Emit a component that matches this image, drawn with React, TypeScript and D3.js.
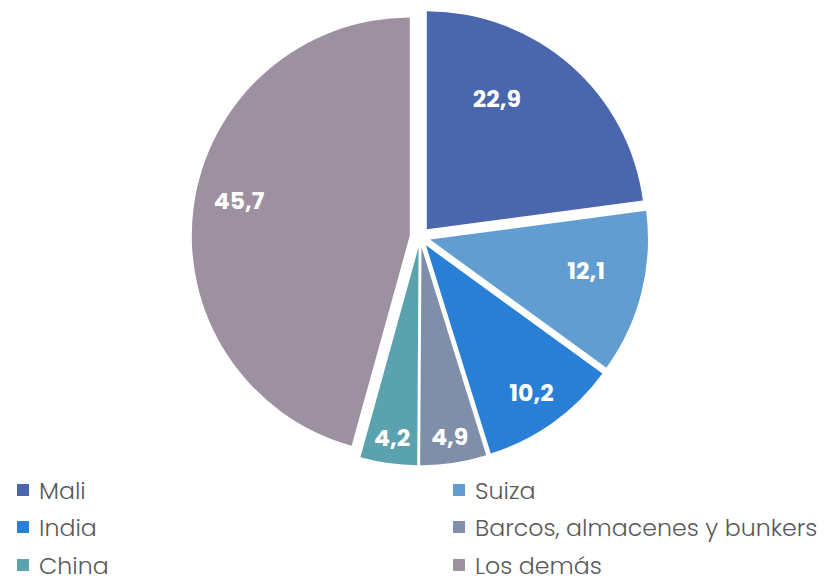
import React from "react";
import * as d3 from "d3";

const categories = ["Mali", "Suiza", "India", "Barcos, almacenes y bunkers", "China", "Los demás"];
const values = [22.9, 12.1, 10.2, 4.9, 4.2, 45.7];
const labels = ["22,9", "12,1", "10,2", "4,9", "4,2", "45,7"];
const colors = ["#4A66AC", "#629DD1", "#297FD5", "#7F8FA9", "#5AA2AE", "#9D90A0"];

const W = 830;
const H = 576;
const cx = 420;
const cy = 237;
const R = 218;
const explode = 10.3;
const labelFrac = [0.68, 0.73, 0.83, 0.88, 0.88, 0.8];
const labelNudge = [-13, -3, 0, 0, 0, 4];

export default function App() {
  const pie = d3.pie<number>().sort(null).value((d) => d)(values);
  const arc = d3.arc<d3.PieArcDatum<number>>().innerRadius(0).outerRadius(R);
  const fontFamily = "Poppins, 'Open Sans', sans-serif";

  const legendCols = [17, 453];
  const legendRows = [490, 527, 565];

  return (
    <svg width={W} height={H} style={{ position: "absolute", left: 0, top: 0 }}>
      <rect width={W} height={H} fill="#fff" />
      {pie.map((p, i) => {
        const mid = (p.startAngle + p.endAngle) / 2;
        const ox = cx + explode * Math.sin(mid);
        const oy = cy - explode * Math.cos(mid);
        const la = mid + (labelNudge[i] * Math.PI) / 180;
        const lx = ox + R * labelFrac[i] * Math.sin(la);
        const ly = oy - R * labelFrac[i] * Math.cos(la);
        return (
          <g key={i}>
            <path d={arc(p) || ""} transform={`translate(${ox},${oy})`} fill={colors[i]} />
            <text
              x={lx}
              y={ly}
              fill="#fff"
              fontFamily={fontFamily}
              fontWeight={700}
              fontSize={23.5}
              textAnchor="middle"
              dominantBaseline="central"
            >
              {labels[i]}
            </text>
          </g>
        );
      })}
      {categories.map((c, i) => {
        const col = i % 2;
        const row = Math.floor(i / 2);
        const x = legendCols[col];
        const y = legendRows[row];
        return (
          <g key={c}>
            <rect x={x} y={y - 6} width={12} height={12} fill={colors[i]} />
            <text
              x={x + 22}
              y={y}
              fill="#595959"
              fontFamily={fontFamily}
              fontSize={23.7}
              fontWeight={300}
              dominantBaseline="central"
            >
              {c}
            </text>
          </g>
        );
      })}
    </svg>
  );
}
